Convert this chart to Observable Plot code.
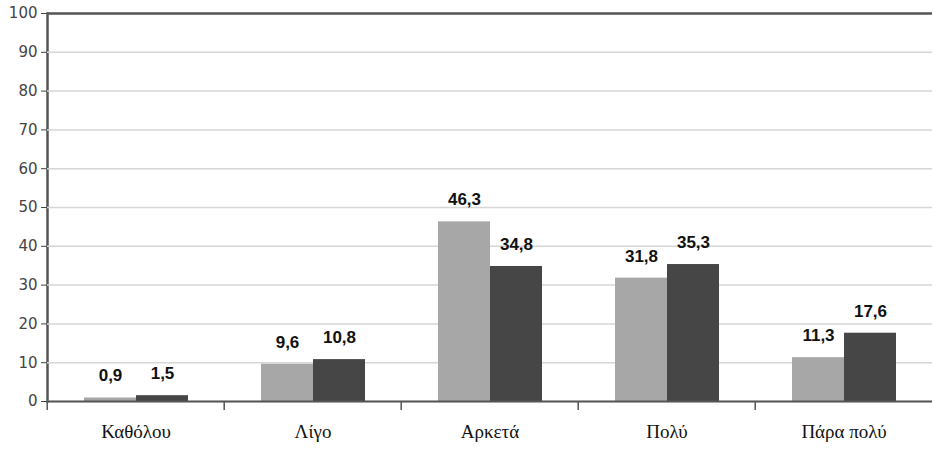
<!DOCTYPE html>
<html>
<head>
<meta charset="utf-8">
<script src="https://cdn.jsdelivr.net/npm/d3@7"></script>
<script src="https://cdn.jsdelivr.net/npm/@observablehq/plot@0.6"></script>
<style>
  body { margin: 0; background: white; }
  svg g[aria-label="text"][font-weight="bold"] text { letter-spacing: 2.5px; }
  svg g[aria-label="frame"] line { stroke: #555; stroke-width: 2.5px; }
</style>
</head>
<body>
<div id="chart"></div>
<script>
const categories = ["Καθόλου", "Λίγο", "Αρκετά", "Πολύ", "Πάρα πολύ"];
const seriesNames = ["Σειρά 1", "Σειρά 2"];
const series1 = [0.9, 9.6, 46.3, 31.8, 11.3];
const series2 = [1.5, 10.8, 34.8, 35.3, 17.6];
const yTicks = [0, 10, 20, 30, 40, 50, 60, 70, 80, 90, 100];

const data = categories.flatMap((c, i) => [
  {category: c, series: seriesNames[0], value: series1[i]},
  {category: c, series: seriesNames[1], value: series2[i]}
]);
const fmt = v => v.toFixed(1).replace(".", ",");

const W = 933, H = 453, ML = 45, MR = 0;
const halfBand = (W - ML - MR) / categories.length / 2;

const chart = Plot.plot({
  width: W,
  height: H,
  marginLeft: ML,
  marginRight: MR,
  marginTop: 13,
  marginBottom: 52,
  style: {background: "white", fontFamily: "DejaVu Sans", fontSize: "15px", color: "#444"},
  fx: {domain: categories, padding: 0, label: null, axis: null},
  x: {domain: seriesNames, paddingInner: 0, paddingOuter: 0.7, axis: null},
  y: {domain: [0, 100], ticks: yTicks, tickSize: 6, tickPadding: 4, line: true, label: null},
  color: {domain: seriesNames, range: ["#a7a7a7", "#464646"]},
  marks: [
    Plot.gridY(yTicks, {stroke: "#d6d6d6", strokeOpacity: 1, strokeWidth: 1.5}),
    Plot.ruleY([100], {stroke: "#555", strokeWidth: 2.5}),
    Plot.barY(data, {fx: "category", x: "series", y: "value", fill: "series"}),
    Plot.ruleY([0], {stroke: "#555", strokeWidth: 2}),
    Plot.text(data, {fx: "category", x: "series", y: "value", text: d => fmt(d.value),
      dy: -22, fontWeight: "bold", fontSize: 17, fontFamily: "'Liberation Sans', Arial, sans-serif", fill: "#111"}),
    Plot.axisFx({anchor: "bottom", tickSize: 9, fill: "none", dx: -halfBand, stroke: "#555", strokeWidth: 1.5, label: null}),
    Plot.text(categories, {fx: d => d, text: d => d, frameAnchor: "bottom", dy: 36, fontSize: 19,
      fontFamily: "'Liberation Serif', 'DejaVu Serif', serif", fill: "#111"})
  ]
});
document.getElementById("chart").appendChild(chart);
</script>
</body>
</html>
